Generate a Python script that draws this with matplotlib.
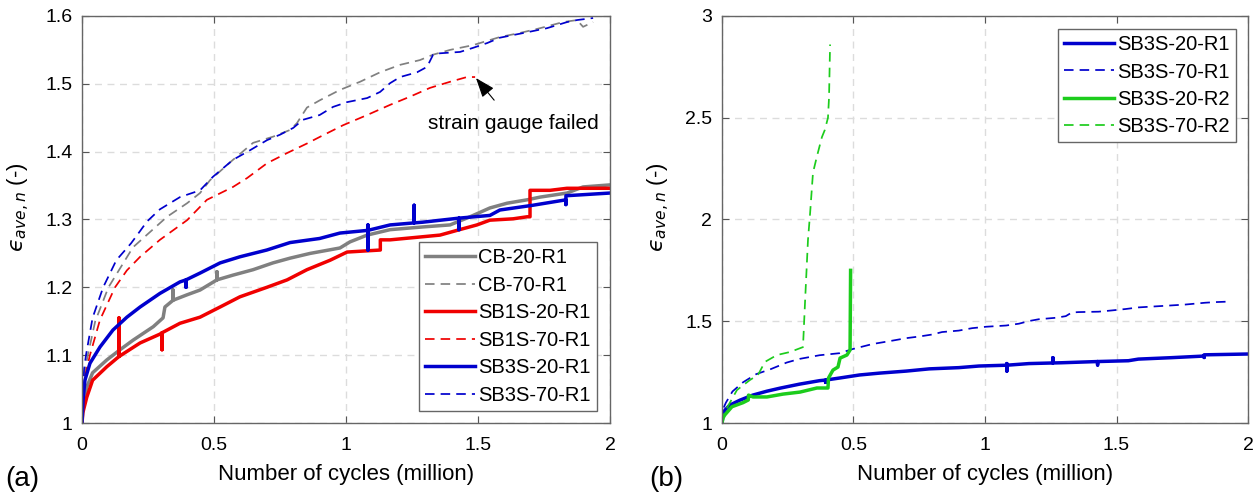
import matplotlib
matplotlib.use("Agg")
import matplotlib.pyplot as plt

plt.rcParams["font.family"] = ["Liberation Sans", "DejaVu Sans"]
plt.rcParams["mathtext.fontset"] = "dejavusans"

# ---- (a) six specimens, cycles in million ----
cb20_x = [0, 0.003, 0.018, 0.04, 0.094, 0.144, 0.193, 0.27, 0.307, 0.314, 0.345, 0.345, 0.345,
          0.398, 0.447, 0.511, 0.511, 0.511, 0.572, 0.648, 0.723, 0.788, 0.864, 0.977, 1.015,
          1.08, 1.167, 1.29, 1.394, 1.47, 1.545, 1.61, 1.686, 1.735, 1.837, 1.898, 2.0]
cb20_y = [1.0, 1.024, 1.053, 1.074, 1.093, 1.108, 1.122, 1.142, 1.155, 1.171, 1.181, 1.196, 1.181,
          1.189, 1.196, 1.211, 1.223, 1.211, 1.218, 1.226, 1.236, 1.243, 1.25, 1.258, 1.267,
          1.277, 1.285, 1.289, 1.292, 1.304, 1.317, 1.324, 1.329, 1.333, 1.339, 1.348, 1.351]

cb70_x = [0, 0.004, 0.01, 0.022, 0.05, 0.1, 0.193, 0.322, 0.398, 0.447, 0.485, 0.572, 0.648,
          0.723, 0.788, 0.814, 0.852, 0.902, 0.977, 1.053, 1.129, 1.205, 1.28, 1.33, 1.394,
          1.481, 1.583, 1.659, 1.735, 1.822, 1.875, 1.898, 1.936]
cb70_y = [1.0, 1.05, 1.075, 1.1, 1.15, 1.2, 1.259, 1.304, 1.324, 1.339, 1.358, 1.388, 1.413,
          1.422, 1.432, 1.442, 1.465, 1.476, 1.491, 1.503, 1.517, 1.528, 1.535, 1.543, 1.55,
          1.557, 1.569, 1.575, 1.582, 1.591, 1.594, 1.584, 1.591]

sb1s20_x = [0, 0.003, 0.018, 0.04, 0.094, 0.14, 0.14, 0.14, 0.22, 0.295, 0.303, 0.303, 0.303,
            0.371, 0.447, 0.523, 0.598, 0.70, 0.777, 0.852, 0.94, 1.004, 1.13, 1.13, 1.167,
            1.356, 1.43, 1.496, 1.545, 1.633, 1.686, 1.697, 1.697, 1.773, 1.837, 2.0]
sb1s20_y = [1.0, 1.015, 1.038, 1.063, 1.083, 1.098, 1.155, 1.098, 1.118, 1.131, 1.133, 1.108, 1.133,
            1.147, 1.156, 1.171, 1.186, 1.2, 1.211, 1.226, 1.24, 1.252, 1.255, 1.27, 1.27,
            1.277, 1.285, 1.292, 1.299, 1.301, 1.304, 1.304, 1.343, 1.343, 1.346, 1.346]

sb1s70_x = [0, 0.004, 0.012, 0.03, 0.068, 0.125, 0.17, 0.22, 0.295, 0.398, 0.473, 0.572, 0.625,
            0.701, 0.777, 0.852, 0.902, 0.989, 1.08, 1.167, 1.242, 1.318, 1.394, 1.458, 1.489]
sb1s70_y = [1.0, 1.04, 1.07, 1.1, 1.152, 1.2, 1.225, 1.245, 1.27, 1.299, 1.329, 1.348, 1.361,
            1.383, 1.398, 1.412, 1.422, 1.439, 1.454, 1.469, 1.481, 1.494, 1.503, 1.51, 1.51]

sb3s20_x = [0, 0.004, 0.011, 0.03, 0.068, 0.117, 0.17, 0.22, 0.295, 0.371, 0.394, 0.394, 0.394,
            0.447, 0.523, 0.598, 0.70, 0.788, 0.90, 0.977, 1.083, 1.083, 1.083, 1.083, 1.167,
            1.258, 1.258, 1.258, 1.29, 1.428, 1.428, 1.428, 1.545, 1.583, 1.708, 1.833, 1.833,
            1.833, 2.0]
sb3s20_y = [1.0, 1.034, 1.063, 1.088, 1.112, 1.137, 1.156, 1.171, 1.191, 1.208, 1.211, 1.2, 1.211,
            1.221, 1.236, 1.245, 1.255, 1.266, 1.272, 1.28, 1.284, 1.255, 1.292, 1.284, 1.292,
            1.295, 1.321, 1.295, 1.296, 1.302, 1.285, 1.302, 1.306, 1.314, 1.321, 1.329, 1.322,
            1.335, 1.339]

sb3s70_x = [0, 0.003, 0.008, 0.015, 0.04, 0.08, 0.13, 0.186, 0.22, 0.246, 0.295, 0.371, 0.447,
            0.496, 0.572, 0.636, 0.701, 0.75, 0.80, 0.837, 0.90, 0.951, 1.004, 1.08, 1.129,
            1.167, 1.205, 1.269, 1.307, 1.33, 1.356, 1.432, 1.481, 1.534, 1.583, 1.686, 1.761,
            1.837, 1.875, 1.936]
sb3s70_y = [1.0, 1.05, 1.08, 1.1, 1.155, 1.2, 1.24, 1.265, 1.283, 1.297, 1.315, 1.333, 1.343,
            1.363, 1.388, 1.402, 1.417, 1.425, 1.435, 1.447, 1.454, 1.466, 1.473, 1.479, 1.488,
            1.501, 1.51, 1.517, 1.525, 1.543, 1.545, 1.547, 1.553, 1.56, 1.568, 1.576, 1.582,
            1.591, 1.594, 1.597]

# ---- (b) second replicate of SB3S ----
sb3s20r2_x = [0, 0.004, 0.011, 0.038, 0.08, 0.1, 0.101, 0.118, 0.171, 0.232, 0.297, 0.361, 0.403,
              0.405, 0.422, 0.441, 0.449, 0.475, 0.487, 0.489]
sb3s20r2_y = [1.0, 1.025, 1.04, 1.08, 1.10, 1.113, 1.137, 1.128, 1.128, 1.142, 1.152, 1.172, 1.172,
              1.221, 1.26, 1.275, 1.319, 1.334, 1.359, 1.75]

sb3s70r2_x = [0, 0.006, 0.019, 0.057, 0.106, 0.137, 0.163, 0.209, 0.259, 0.308, 0.316, 0.327,
              0.335, 0.346, 0.361, 0.38, 0.391, 0.403, 0.407, 0.411]
sb3s70r2_y = [1.0, 1.04, 1.074, 1.162, 1.211, 1.236, 1.3, 1.334, 1.349, 1.373, 1.6, 1.9,
              2.03, 2.23, 2.31, 2.405, 2.44, 2.5, 2.6, 2.86]

x_ticks = [0, 0.5, 1, 1.5, 2]
ya_ticks = [1, 1.1, 1.2, 1.3, 1.4, 1.5, 1.6]
yb_ticks = [1, 1.5, 2, 2.5, 3]

GRAY, RED, BLUE, GREEN = "#808080", "#f00000", "#0000cd", "#1ccc1c"
SOLID_LW, DASH_LW = 2.5, 1.25
DASHES = (5.5, 3.5)

fig = plt.figure(figsize=(12.58, 4.98), dpi=100)
ax_a = fig.add_axes([0.0652, 0.1506, 0.4197, 0.8173])
ax_b = fig.add_axes([0.5739, 0.1506, 0.4182, 0.8173])


def style(ax, yticks, ylim):
    ax.set_xlim(0, 2)
    ax.set_ylim(*ylim)
    ax.set_xticks(x_ticks)
    ax.set_xticklabels([f"{t:g}" for t in x_ticks])
    ax.set_yticks(yticks)
    ax.set_yticklabels([f"{t:g}" for t in yticks])
    ax.tick_params(direction="in", top=True, right=True, length=5, width=0.8,
                   labelsize=14, color="#555555")
    ax.tick_params(axis="x", pad=10)
    ax.tick_params(axis="y", pad=7)
    for s in ax.spines.values():
        s.set_color("#666666")
        s.set_linewidth(1.0)
    ax.grid(True, color="#dcdcdc", linestyle=(0, (5, 4)), linewidth=1.0)
    ax.set_axisbelow(True)
    ax.set_xlabel("Number of cycles (million)", fontsize=16, labelpad=7)
    # lunate epsilon (U+03F5) with italic subscript
    ax.set_ylabel("$\u03f5_{ave,n}$ (-)", fontsize=16)
    ax.yaxis.set_label_coords(-0.095, 0.53)


style(ax_a, ya_ticks, (1.0, 1.6))
style(ax_b, yb_ticks, (1.0, 3.0))

ax_a.plot(cb20_x, cb20_y, color=GRAY, lw=SOLID_LW, label="CB-20-R1")
ax_a.plot(cb70_x, cb70_y, color=GRAY, lw=DASH_LW, dashes=DASHES, label="CB-70-R1")
ax_a.plot(sb1s20_x, sb1s20_y, color=RED, lw=SOLID_LW, label="SB1S-20-R1")
ax_a.plot(sb1s70_x, sb1s70_y, color=RED, lw=DASH_LW, dashes=DASHES, label="SB1S-70-R1")
ax_a.plot(sb3s20_x, sb3s20_y, color=BLUE, lw=SOLID_LW, label="SB3S-20-R1")
ax_a.plot(sb3s70_x, sb3s70_y, color=BLUE, lw=DASH_LW, dashes=DASHES, label="SB3S-70-R1")

ax_a.annotate("strain gauge failed", xy=(sb1s70_x[-1], sb1s70_y[-1]), xytext=(1.633, 1.442),
              fontsize=15, ha="center", va="center",
              arrowprops=dict(arrowstyle="-|>,head_length=0.8,head_width=0.3",
                              color="black", lw=0.8, shrinkA=10, shrinkB=1))

leg_kw = dict(fontsize=14.5, frameon=True, fancybox=False, framealpha=1, edgecolor="#666666",
              handlelength=2.5, handletextpad=0.15, labelspacing=0.42, borderpad=0.3,
              borderaxespad=0)
la = ax_a.legend(loc="lower right", bbox_to_anchor=(0.975, 0.03), **leg_kw)
la.get_frame().set_linewidth(1.0)

ax_b.plot(sb3s20_x, sb3s20_y, color=BLUE, lw=SOLID_LW, label="SB3S-20-R1")
ax_b.plot(sb3s70_x, sb3s70_y, color=BLUE, lw=DASH_LW, dashes=DASHES, label="SB3S-70-R1")
ax_b.plot(sb3s20r2_x, sb3s20r2_y, color=GREEN, lw=SOLID_LW, label="SB3S-20-R2")
ax_b.plot(sb3s70r2_x, sb3s70r2_y, color=GREEN, lw=DASH_LW, dashes=DASHES, label="SB3S-70-R2")
lb = ax_b.legend(loc="upper right", bbox_to_anchor=(0.977, 0.968), **leg_kw)
lb.get_frame().set_linewidth(1.0)

fig.text(0.004, 0.038, "(a)", fontsize=20, ha="left", va="center")
fig.text(0.516, 0.038, "(b)", fontsize=20, ha="left", va="center")

fig.savefig("out.png", dpi=100)
